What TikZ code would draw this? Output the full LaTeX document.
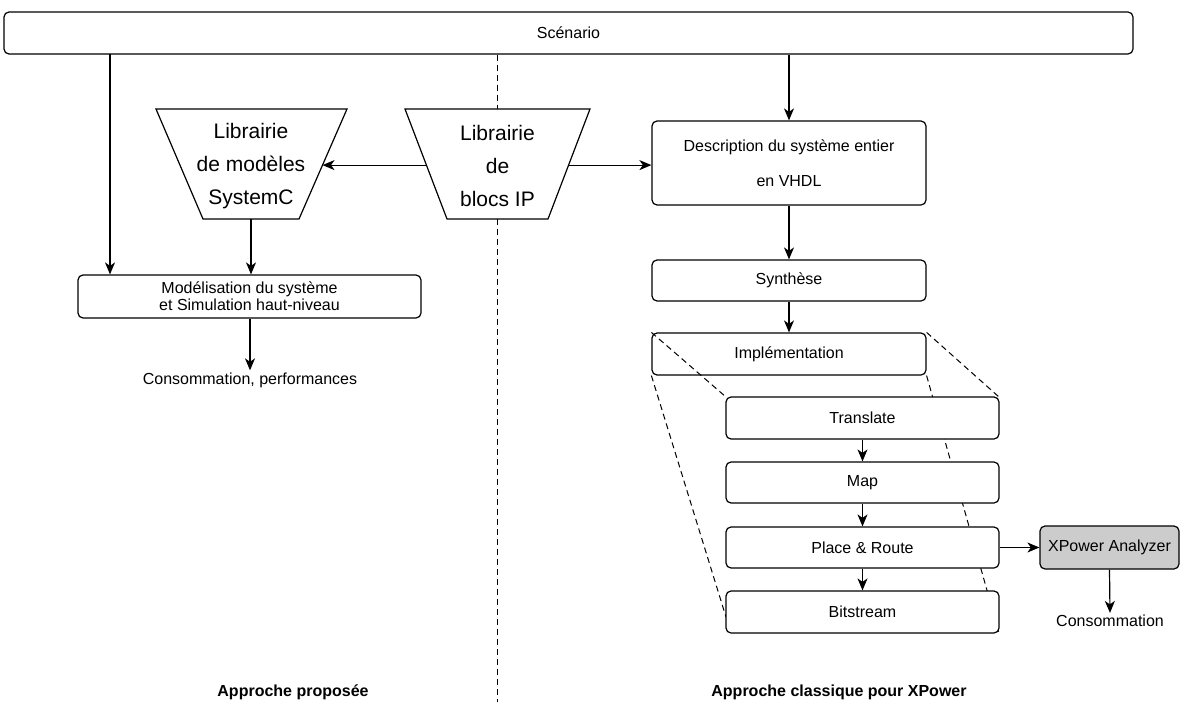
\documentclass[tikz,border=0pt]{standalone}
\usepackage{fontspec}
\setmainfont{Liberation Sans}
\usetikzlibrary{arrows.meta,calc}
\begin{document}
\begin{tikzpicture}[x=1pt,y=-1pt,
  box/.style={draw, rounded corners=5pt, line width=1.2pt, fill=white,
    font=\fontsize{16}{19}\selectfont, inner sep=0pt, align=center},
  txt/.style={font=\fontsize{16}{19}\selectfont, inner sep=2pt},
  big/.style={font=\fontsize{21}{33}\selectfont, align=center, inner sep=0pt},
  lbl/.style={font=\fontsize{16}{19}\selectfont\bfseries, inner sep=0pt},
  arr/.style={-{Stealth[length=12pt,width=10pt,inset=3.5pt]}, line width=1.2pt},
  dsh/.style={dash pattern=on 6pt off 4pt, line width=1pt},
  trap/.style={draw, line width=1.2pt, fill=white}]
\useasboundingbox (0,0) rectangle (1184,704);

% Scenario
\node[box, minimum width=1129pt, minimum height=42pt] (scen) at (568.5,33) {Scénario};

% Trapezoids
\coordinate (sctl) at (156,109); \coordinate (sctr) at (347,109);
\coordinate (scbr) at (299,219); \coordinate (scbl) at (203,219);
\draw[trap] (sctl) -- (sctr) -- (scbr) -- (scbl) -- cycle;
\node[big] (libsc) at (251,166) {Librairie\\de modèles\\SystemC};
\coordinate (scbot) at (251,219);
\coordinate (scright) at ($(sctr)!0.51!(scbr)$);

\coordinate (iptl) at (405,109); \coordinate (iptr) at (590,109);
\coordinate (ipbr) at (548,219); \coordinate (ipbl) at (447,219);
\draw[trap] (iptl) -- (iptr) -- (ipbr) -- (ipbl) -- cycle;
\node[big] (libip) at (497.5,166) {Librairie\\de\\blocs IP};
\coordinate (iptop) at (497.5,109);
\coordinate (ipbot) at (497.5,219);
\coordinate (ipleft) at ($(iptl)!0.51!(ipbl)$);
\coordinate (ipright) at ($(iptr)!0.51!(ipbr)$);

% Dashed separator
\coordinate (sepend) at (497.5,702);
\draw[dsh] (scen.south -| iptop) -- (iptop);
\draw[dsh] (ipbot) -- (sepend);

% Left side
\node[box, minimum width=343pt, minimum height=43pt, font=\fontsize{16}{17}\selectfont] (mod) at (249.5,296.5) {Modélisation du système\\et Simulation haut-niveau};
\node[txt] (cons1) at (250,380) {Consommation, performances};
\coordinate (lstart) at (110,54);
\draw[arr] (lstart) -- (lstart |- mod.north);
\draw[arr] (scbot) -- (scbot |- mod.north);
\draw[arr] (mod.south -| cons1.north) -- (cons1.north);
\draw[arr] (ipleft) -- (scright);

% Right side
\node[box, minimum width=274pt, minimum height=84pt, font=\fontsize{16}{35}\selectfont] (desc) at (789,163) {Description du système entier\\en VHDL};
\node[box, minimum width=274pt, minimum height=41pt] (syn) at (789,280.5) {Synthèse};
\node[box, minimum width=274pt, minimum height=42pt] (impl) at (789,354) {Implémentation};

\draw[arr] (scen.south -| desc.north) -- (desc.north);
\draw[arr] (ipright) -- (ipright -| desc.west);
\draw[arr] (desc.south) -- (syn.north);
\draw[arr] (syn.south) -- (impl.north);

\coordinate (trnw) at (726,397);
\coordinate (trne) at (999,397);
\coordinate (bitw) at (726,617);
\coordinate (bitse) at (999,633);
\draw[dsh] (impl.north west) -- (trnw);
\draw[dsh] (impl.north east) -- (trne);
\draw[dsh] (impl.south west) -- (bitw);
\draw[dsh] (impl.south east) -- (bitse);

\node[box, minimum width=273pt, minimum height=42pt] (tr) at (862.5,418) {Translate};
\node[box, minimum width=273pt, minimum height=41pt] (map) at (862.5,482.5) {Map};
\node[box, minimum width=273pt, minimum height=41pt] (pr) at (862.5,547.5) {Place \& Route};
\node[box, minimum width=273pt, minimum height=42pt] (bit) at (862.5,612) {Bitstream};

\draw[arr] (tr.south) -- (map.north);
\draw[arr] (map.south) -- (pr.north);
\draw[arr] (pr.south) -- (bit.north);

\node[box, fill=gray!40, minimum width=139pt, minimum height=43pt] (xp) at (1109.5,547.5) {XPower Analyzer};
\node[txt] (cons2) at (1110,621) {Consommation};
\draw[arr] (pr.east) -- (xp.west);
\draw[arr] (xp.south) -- (cons2.north);

% Bottom labels
\node[lbl] (lp) at (293,692) {Approche proposée};
\node[lbl] (lc) at (839,692) {Approche classique pour XPower};
\end{tikzpicture}
\end{document}
